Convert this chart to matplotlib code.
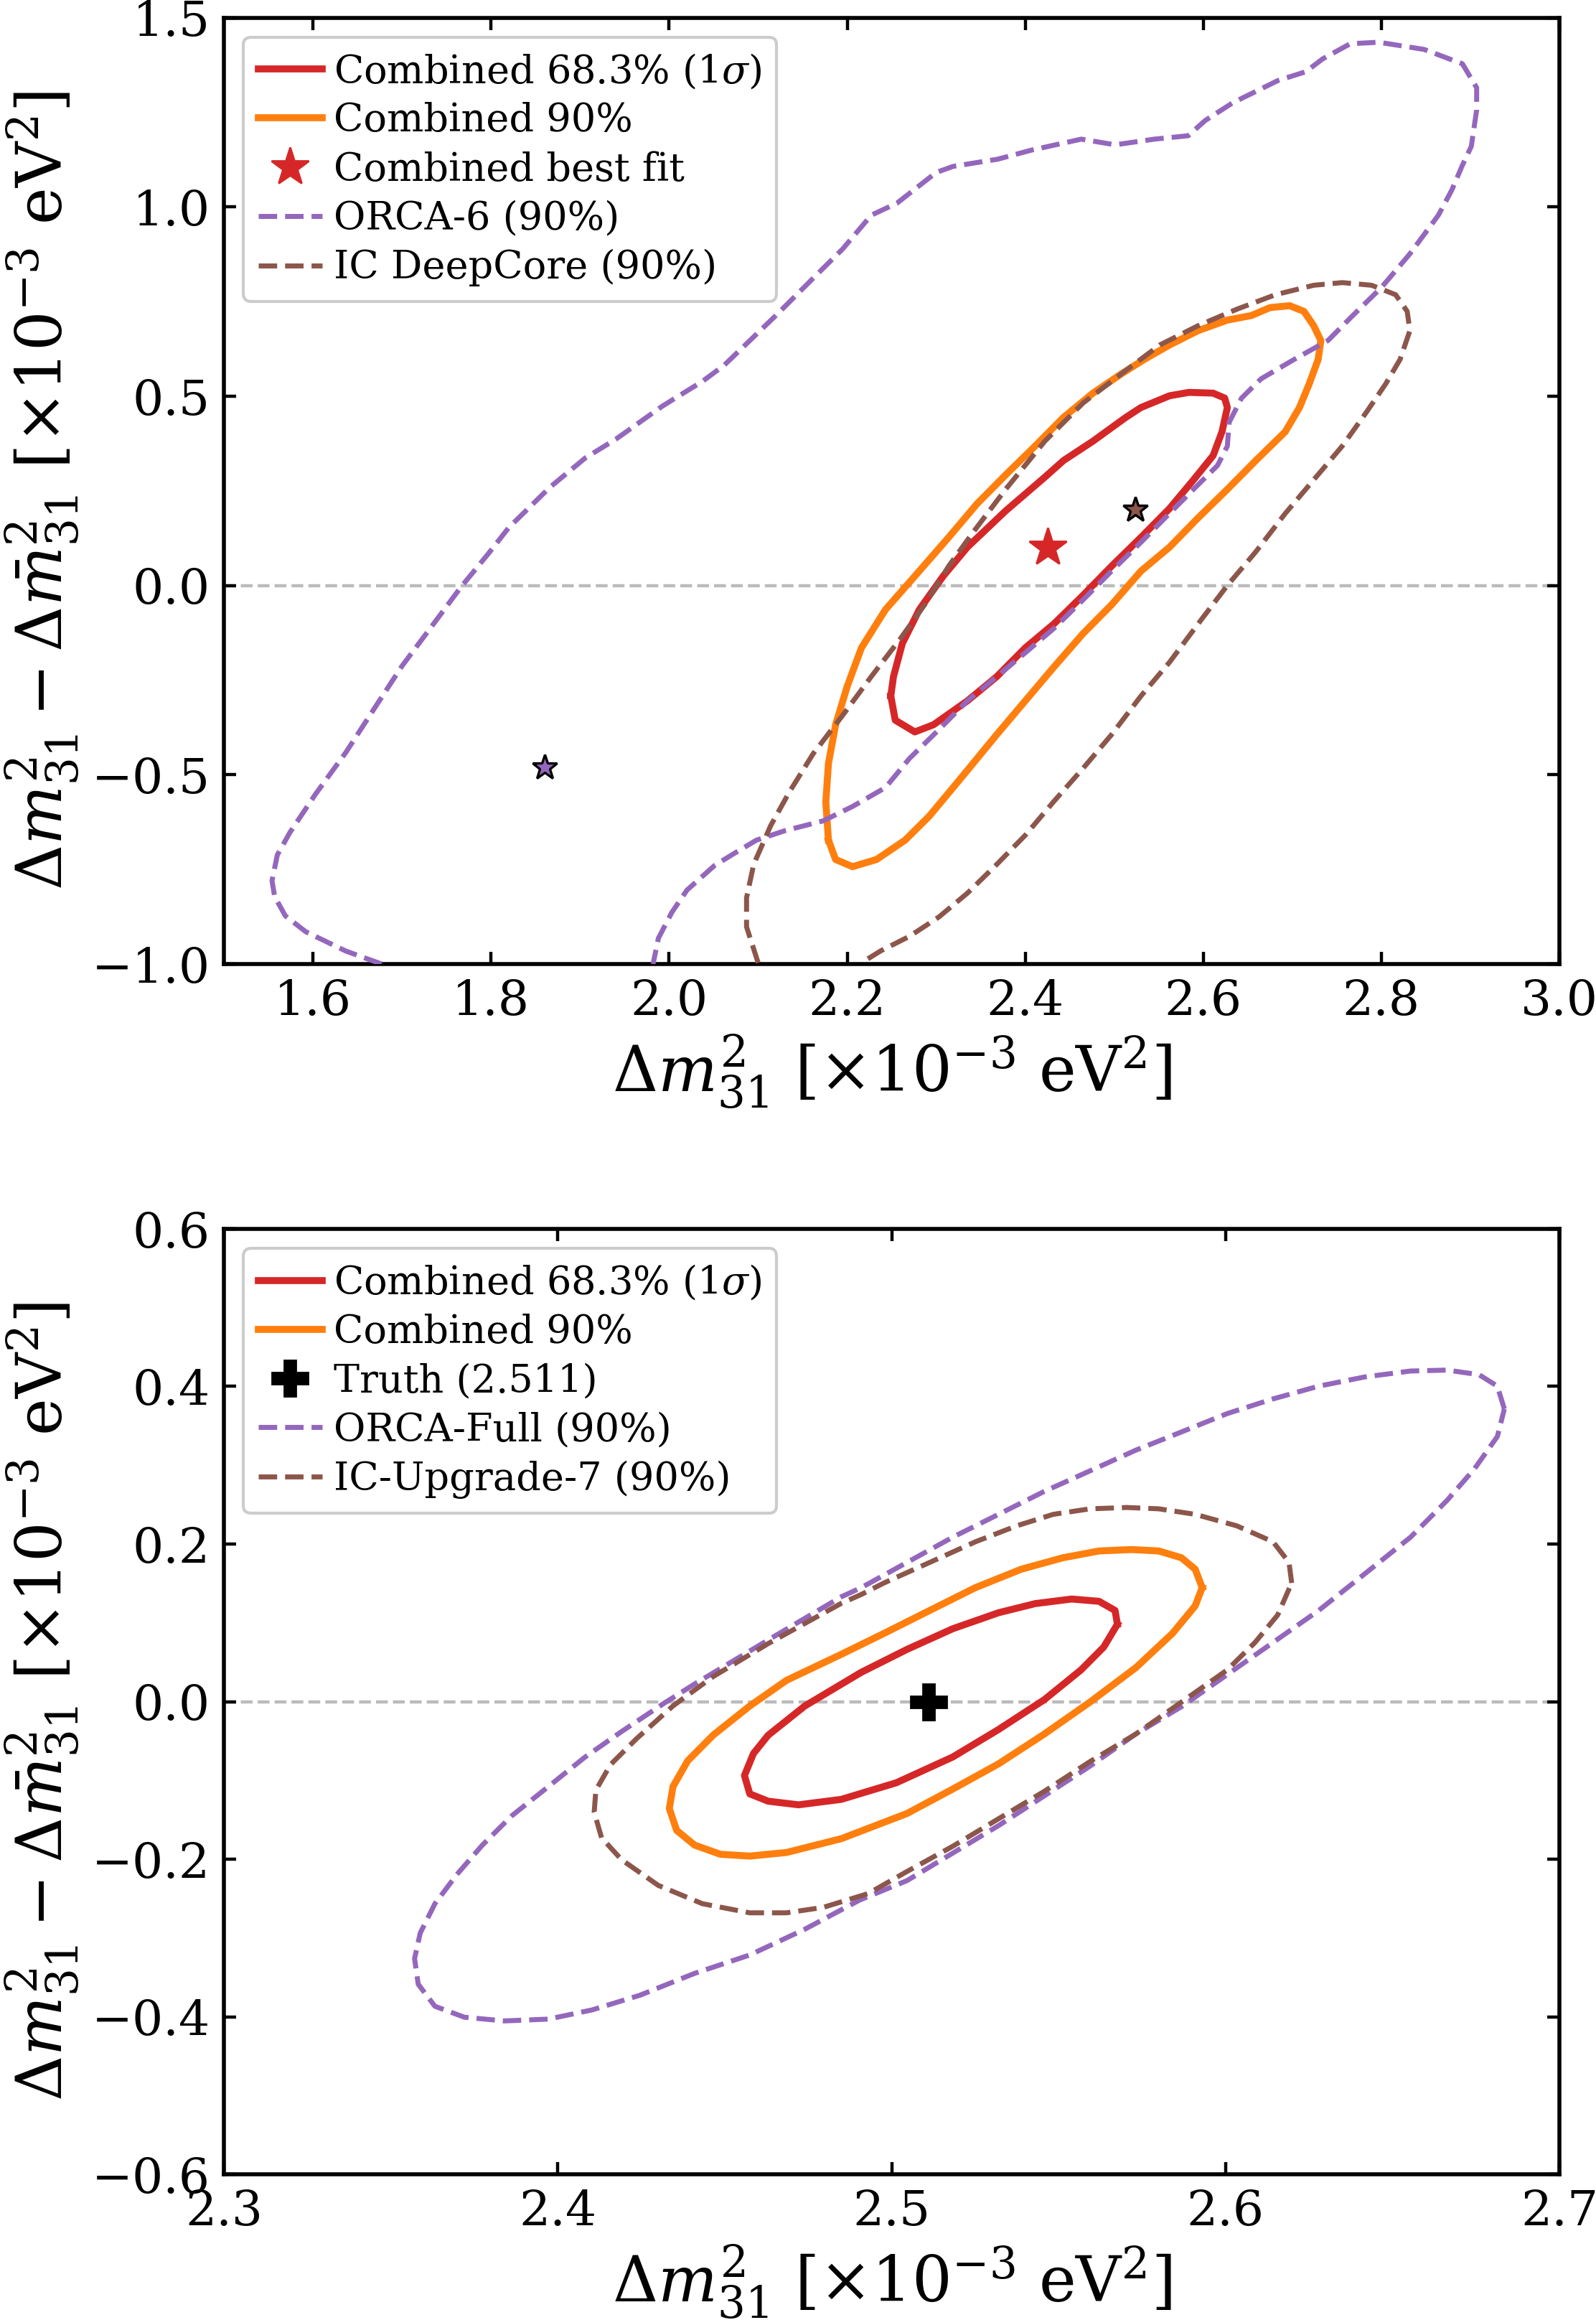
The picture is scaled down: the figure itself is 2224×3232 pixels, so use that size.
import matplotlib
matplotlib.use('Agg')
import matplotlib.pyplot as plt
from matplotlib.lines import Line2D

plt.rcParams['font.family'] = ['DejaVu Serif']
plt.rcParams['mathtext.fontset'] = 'dejavuserif'

# ---------------- Top panel (ORCA-6 / IC DeepCore) ----------------
top_c68_x = [2.249, 2.254, 2.276, 2.297, 2.335, 2.368, 2.400, 2.432, 2.465, 2.497, 2.530, 2.562,
             2.589, 2.611, 2.621, 2.627, 2.624, 2.611, 2.584, 2.562, 2.530, 2.513, 2.476, 2.443,
             2.422, 2.378, 2.335, 2.308, 2.281, 2.262, 2.252, 2.249]
top_c68_y = [-0.292, -0.356, -0.387, -0.368, -0.305, -0.241, -0.165, -0.102, -0.026, 0.051, 0.127, 0.203,
             0.279, 0.343, 0.406, 0.470, 0.495, 0.508, 0.510, 0.501, 0.470, 0.444, 0.381, 0.330,
             0.286, 0.197, 0.101, 0.025, -0.064, -0.153, -0.241, -0.292]

top_c90_x = [2.179, 2.187, 2.206, 2.233, 2.265, 2.292, 2.319, 2.346, 2.368, 2.400, 2.432, 2.465,
             2.497, 2.530, 2.562, 2.594, 2.627, 2.659, 2.692, 2.708, 2.719, 2.729, 2.732, 2.724,
             2.713, 2.697, 2.675, 2.654, 2.627, 2.594, 2.562, 2.535, 2.508, 2.476, 2.443, 2.411,
             2.378, 2.346, 2.314, 2.281, 2.243, 2.216, 2.200, 2.187, 2.179, 2.176, 2.179]
top_c90_y = [-0.673, -0.724, -0.743, -0.724, -0.673, -0.610, -0.534, -0.457, -0.394, -0.305, -0.216, -0.127,
             -0.051, 0.038, 0.101, 0.178, 0.254, 0.330, 0.406, 0.470, 0.533, 0.597, 0.647, 0.686,
             0.724, 0.739, 0.734, 0.713, 0.701, 0.673, 0.635, 0.599, 0.559, 0.508, 0.444, 0.368,
             0.292, 0.216, 0.127, 0.038, -0.064, -0.165, -0.267, -0.368, -0.470, -0.572, -0.673]

top_orca_x = [1.677, 1.637, 1.592, 1.569, 1.557, 1.554, 1.560, 1.574, 1.603, 1.637, 1.672, 1.700,
              1.735, 1.766, 1.797, 1.820, 1.866, 1.906, 1.940, 1.992, 2.038, 2.062, 2.119, 2.162,
              2.195, 2.227, 2.256, 2.300, 2.319, 2.369, 2.407, 2.463, 2.501, 2.545, 2.583, 2.602,
              2.633, 2.684, 2.715, 2.734, 2.765, 2.797, 2.848, 2.891, 2.907, 2.907, 2.901, 2.891,
              2.879, 2.864, 2.832, 2.800, 2.767, 2.740, 2.702, 2.665, 2.643, 2.629, 2.627, 2.616,
              2.589, 2.562, 2.530, 2.497, 2.465, 2.432, 2.400, 2.368, 2.335, 2.303, 2.270, 2.243,
              2.206, 2.173, 2.130, 2.098, 2.071, 2.051, 2.020, 2.003, 1.988, 1.982]
top_orca_y = [-1.000, -0.966, -0.915, -0.873, -0.822, -0.780, -0.712, -0.653, -0.551, -0.441, -0.314, -0.213,
              -0.103, -0.005, 0.084, 0.153, 0.259, 0.337, 0.386, 0.473, 0.540, 0.582, 0.711, 0.812,
              0.889, 0.978, 1.010, 1.091, 1.107, 1.126, 1.150, 1.179, 1.164, 1.179, 1.188, 1.228,
              1.275, 1.334, 1.357, 1.391, 1.431, 1.435, 1.416, 1.378, 1.315, 1.256, 1.160, 1.110,
              1.044, 0.978, 0.876, 0.787, 0.711, 0.647, 0.597, 0.546, 0.495, 0.431, 0.368, 0.317,
              0.254, 0.190, 0.114, 0.038, -0.038, -0.114, -0.178, -0.241, -0.305, -0.381, -0.457, -0.534,
              -0.584, -0.622, -0.648, -0.673, -0.711, -0.740, -0.805, -0.864, -0.932, -1.000]

top_ic_x = [2.100, 2.087, 2.087, 2.095, 2.114, 2.135, 2.162, 2.195, 2.227, 2.260, 2.287, 2.314,
            2.341, 2.378, 2.422, 2.465, 2.508, 2.551, 2.594, 2.638, 2.681, 2.724, 2.756, 2.789,
            2.816, 2.829, 2.832, 2.821, 2.805, 2.783, 2.756, 2.724, 2.692, 2.659, 2.627, 2.594,
            2.562, 2.530, 2.497, 2.465, 2.432, 2.400, 2.368, 2.335, 2.303, 2.270, 2.238, 2.216]
top_ic_y = [-0.997, -0.902, -0.825, -0.737, -0.635, -0.546, -0.444, -0.343, -0.241, -0.140, -0.051, 0.051,
            0.139, 0.254, 0.381, 0.482, 0.559, 0.635, 0.686, 0.730, 0.768, 0.793, 0.800, 0.793,
            0.768, 0.724, 0.673, 0.597, 0.533, 0.457, 0.368, 0.279, 0.190, 0.089, 0.000, -0.102,
            -0.203, -0.292, -0.394, -0.483, -0.571, -0.660, -0.737, -0.813, -0.876, -0.927, -0.965, -0.997]

top_best_comb = (2.425, 0.10)
top_best_orca = (1.86, -0.48)
top_best_ic = (2.524, 0.20)

# ---------------- Bottom panel (ORCA-Full / IC-Upgrade-7) ----------------
bot_c68_x = [2.5676, 2.5669, 2.5621, 2.5539, 2.5430, 2.5320, 2.5183, 2.5046, 2.4909, 2.4740, 2.4630, 2.4586,
             2.4559, 2.4575, 2.4630, 2.4721, 2.4849, 2.5014, 2.5183, 2.5320, 2.5457, 2.5567, 2.5635, 2.5676]
bot_c68_y = [0.0982, 0.1157, 0.1273, 0.1302, 0.1244, 0.1128, 0.0925, 0.0663, 0.0372, -0.0055, -0.0427, -0.0659,
             -0.0938, -0.1171, -0.1264, -0.1310, -0.1241, -0.1030, -0.0703, -0.0354, 0.0024, 0.0402, 0.0692, 0.0982]

bot_c90_x = [2.5930, 2.5909, 2.5868, 2.5800, 2.5718, 2.5621, 2.5512, 2.5388, 2.5251, 2.5114, 2.4977, 2.4849,
             2.4685, 2.4575, 2.4465, 2.4389, 2.4345, 2.4334, 2.4356, 2.4410, 2.4487, 2.4575, 2.4685, 2.4849,
             2.5046, 2.5183, 2.5320, 2.5457, 2.5594, 2.5731, 2.5841, 2.5909, 2.5930]
bot_c90_y = [0.1447, 0.1680, 0.1825, 0.1912, 0.1930, 0.1912, 0.1825, 0.1680, 0.1447, 0.1157, 0.0866, 0.0600,
             0.0270, -0.0055, -0.0427, -0.0752, -0.1078, -0.1357, -0.1635, -0.1822, -0.1938, -0.1961, -0.1915, -0.1740,
             -0.1420, -0.1110, -0.0790, -0.0412, -0.0006, 0.0430, 0.0866, 0.1215, 0.1447]

bot_orca_x = [2.6835, 2.6814, 2.6759, 2.6663, 2.6554, 2.6417, 2.6279, 2.6142, 2.6005, 2.5868, 2.5731, 2.5594,
              2.5457, 2.5320, 2.5183, 2.5046, 2.4909, 2.4849, 2.4630, 2.4410, 2.4323, 2.4191, 2.4081, 2.3972,
              2.3862, 2.3774, 2.3698, 2.3632, 2.3588, 2.3571, 2.3582, 2.3632, 2.3720, 2.3840, 2.3972, 2.4103,
              2.4246, 2.4410, 2.4575, 2.4739, 2.4904, 2.5046, 2.5183, 2.5320, 2.5457, 2.5594, 2.5731, 2.5868,
              2.6005, 2.6142, 2.6279, 2.6417, 2.6554, 2.6663, 2.6746, 2.6814, 2.6835]
bot_orca_y = [0.3714, 0.4004, 0.4150, 0.4208, 0.4196, 0.4121, 0.4004, 0.3842, 0.3656, 0.3423, 0.3191, 0.2929,
              0.2668, 0.2377, 0.2087, 0.1767, 0.1447, 0.1330, 0.0782, 0.0224, -0.0008, -0.0380, -0.0706, -0.1078,
              -0.1450, -0.1822, -0.2193, -0.2565, -0.2937, -0.3262, -0.3588, -0.3867, -0.4006, -0.4053, -0.4030, -0.3913,
              -0.3727, -0.3449, -0.3216, -0.2891, -0.2519, -0.2272, -0.1923, -0.1574, -0.1197, -0.0819, -0.0412, -0.0064,
              0.0343, 0.0750, 0.1157, 0.1622, 0.2087, 0.2552, 0.2958, 0.3365, 0.3714]

bot_ic_x = [2.6198, 2.6190, 2.6142, 2.6033, 2.5909, 2.5800, 2.5704, 2.5594, 2.5484, 2.5375, 2.5251, 2.5114,
            2.4977, 2.4909, 2.4849, 2.4630, 2.4465, 2.4345, 2.4235, 2.4158, 2.4114, 2.4109, 2.4131, 2.4191,
            2.4301, 2.4433, 2.4575, 2.4685, 2.4795, 2.4930, 2.5046, 2.5183, 2.5320, 2.5457, 2.5594, 2.5731,
            2.5868, 2.6005, 2.6088, 2.6156, 2.6198]
bot_ic_y = [0.1506, 0.1767, 0.2029, 0.2232, 0.2377, 0.2447, 0.2464, 0.2447, 0.2377, 0.2232, 0.2029, 0.1767,
            0.1506, 0.1360, 0.1247, 0.0736, 0.0317, -0.0055, -0.0474, -0.0799, -0.1124, -0.1403, -0.1728, -0.2007,
            -0.2333, -0.2565, -0.2681, -0.2681, -0.2612, -0.2436, -0.2156, -0.1836, -0.1487, -0.1139, -0.0761, -0.0412,
            -0.0006, 0.0402, 0.0750, 0.1099, 0.1506]

bot_truth = (2.511, 0.0)

C_RED = '#d62728'
C_ORANGE = '#ff7f0e'
C_PURPLE = '#9467bd'
C_BROWN = '#8c564b'

fig = plt.figure(figsize=(11.12, 16.16), dpi=200)
ax1 = fig.add_axes([0.1403, 0.5845, 0.8368, 0.4079])
ax2 = fig.add_axes([0.1403, 0.0628, 0.8368, 0.4075])

TICK_FS = 24.5
LAB_FS = 31.5
LEG_FS = 19.5
LW_SOLID = 3.5
LW_DASH = 2.5

def style(ax):
    for s in ax.spines.values():
        s.set_linewidth(2.0)
    ax.tick_params(direction='in', top=True, right=True, length=6, width=1.6,
                   labelsize=TICK_FS, pad=7)
    ax.axhline(0, color='#bbbbbb', lw=1.6, ls='--', zorder=0)

xlab = r'$\Delta m^2_{31}$ [$\times 10^{-3}$ eV$^2$]'
ylab = r'$\Delta m^2_{31} - \Delta \bar{m}^2_{31}$ [$\times 10^{-3}$ eV$^2$]'

def legend(ax, handles, labels):
    leg = ax.legend(handles, labels, loc='upper left', fontsize=LEG_FS, labelspacing=0.3,
                    handlelength=1.65, handletextpad=0.3, borderpad=0.38, framealpha=1.0)
    leg.get_frame().set_linewidth(1.5)
    leg.get_frame().set_edgecolor('#cccccc')
    return leg

# Top panel
style(ax1)
ax1.plot(top_c68_x, top_c68_y, color=C_RED, lw=LW_SOLID, zorder=3)
ax1.plot(top_c90_x, top_c90_y, color=C_ORANGE, lw=LW_SOLID, zorder=3)
ax1.plot(top_orca_x, top_orca_y, color=C_PURPLE, lw=LW_DASH, ls='--', zorder=4)
ax1.plot(top_ic_x, top_ic_y, color=C_BROWN, lw=LW_DASH, ls='--', zorder=4)
ax1.plot([top_best_comb[0]], [top_best_comb[1]], marker='*', color=C_RED, ms=20, mec=C_RED, ls='none', zorder=6)
ax1.plot([top_best_orca[0]], [top_best_orca[1]], marker='*', color=C_PURPLE, ms=13, mec='black', mew=1.2, ls='none', zorder=6)
ax1.plot([top_best_ic[0]], [top_best_ic[1]], marker='*', color=C_BROWN, ms=13, mec='black', mew=1.2, ls='none', zorder=6)
ax1.set_xlim(1.5, 3.0)
ax1.set_ylim(-1.0, 1.5)
ax1.set_xticks([1.6, 1.8, 2.0, 2.2, 2.4, 2.6, 2.8, 3.0])
ax1.set_yticks([-1.0, -0.5, 0.0, 0.5, 1.0, 1.5])
ax1.set_xlabel(xlab, fontsize=LAB_FS)
ax1.set_ylabel(ylab, fontsize=LAB_FS)

h1 = [Line2D([], [], color=C_RED, lw=LW_SOLID),
      Line2D([], [], color=C_ORANGE, lw=LW_SOLID),
      Line2D([], [], color=C_RED, marker='*', ms=20, ls='none'),
      Line2D([], [], color=C_PURPLE, lw=LW_DASH, ls='--'),
      Line2D([], [], color=C_BROWN, lw=LW_DASH, ls='--')]
l1 = ['Combined 68.3% (1$\\sigma$)', 'Combined 90%', 'Combined best fit', 'ORCA-6 (90%)', 'IC DeepCore (90%)']
legend(ax1, h1, l1)

# Bottom panel
style(ax2)
ax2.plot(bot_c68_x, bot_c68_y, color=C_RED, lw=LW_SOLID, zorder=3)
ax2.plot(bot_c90_x, bot_c90_y, color=C_ORANGE, lw=LW_SOLID, zorder=3)
ax2.plot(bot_orca_x, bot_orca_y, color=C_PURPLE, lw=LW_DASH, ls='--', zorder=4)
ax2.plot(bot_ic_x, bot_ic_y, color=C_BROWN, lw=LW_DASH, ls='--', zorder=4)
ax2.plot([bot_truth[0]], [bot_truth[1]], marker='P', color='black', ms=18, ls='none', zorder=6)
ax2.set_xlim(2.3, 2.7)
ax2.set_ylim(-0.6, 0.6)
ax2.set_xticks([2.3, 2.4, 2.5, 2.6, 2.7])
ax2.set_yticks([-0.6, -0.4, -0.2, 0.0, 0.2, 0.4, 0.6])
ax2.set_xlabel(xlab, fontsize=LAB_FS)
ax2.set_ylabel(ylab, fontsize=LAB_FS)

h2 = [Line2D([], [], color=C_RED, lw=LW_SOLID),
      Line2D([], [], color=C_ORANGE, lw=LW_SOLID),
      Line2D([], [], color='black', marker='P', ms=18, ls='none'),
      Line2D([], [], color=C_PURPLE, lw=LW_DASH, ls='--'),
      Line2D([], [], color=C_BROWN, lw=LW_DASH, ls='--')]
l2 = ['Combined 68.3% (1$\\sigma$)', 'Combined 90%', 'Truth (2.511)', 'ORCA-Full (90%)', 'IC-Upgrade-7 (90%)']
legend(ax2, h2, l2)

for ax in (ax1, ax2):
    ax.yaxis.set_label_coords(-0.107, 0.5)

fig.savefig('out.png', dpi=200)
